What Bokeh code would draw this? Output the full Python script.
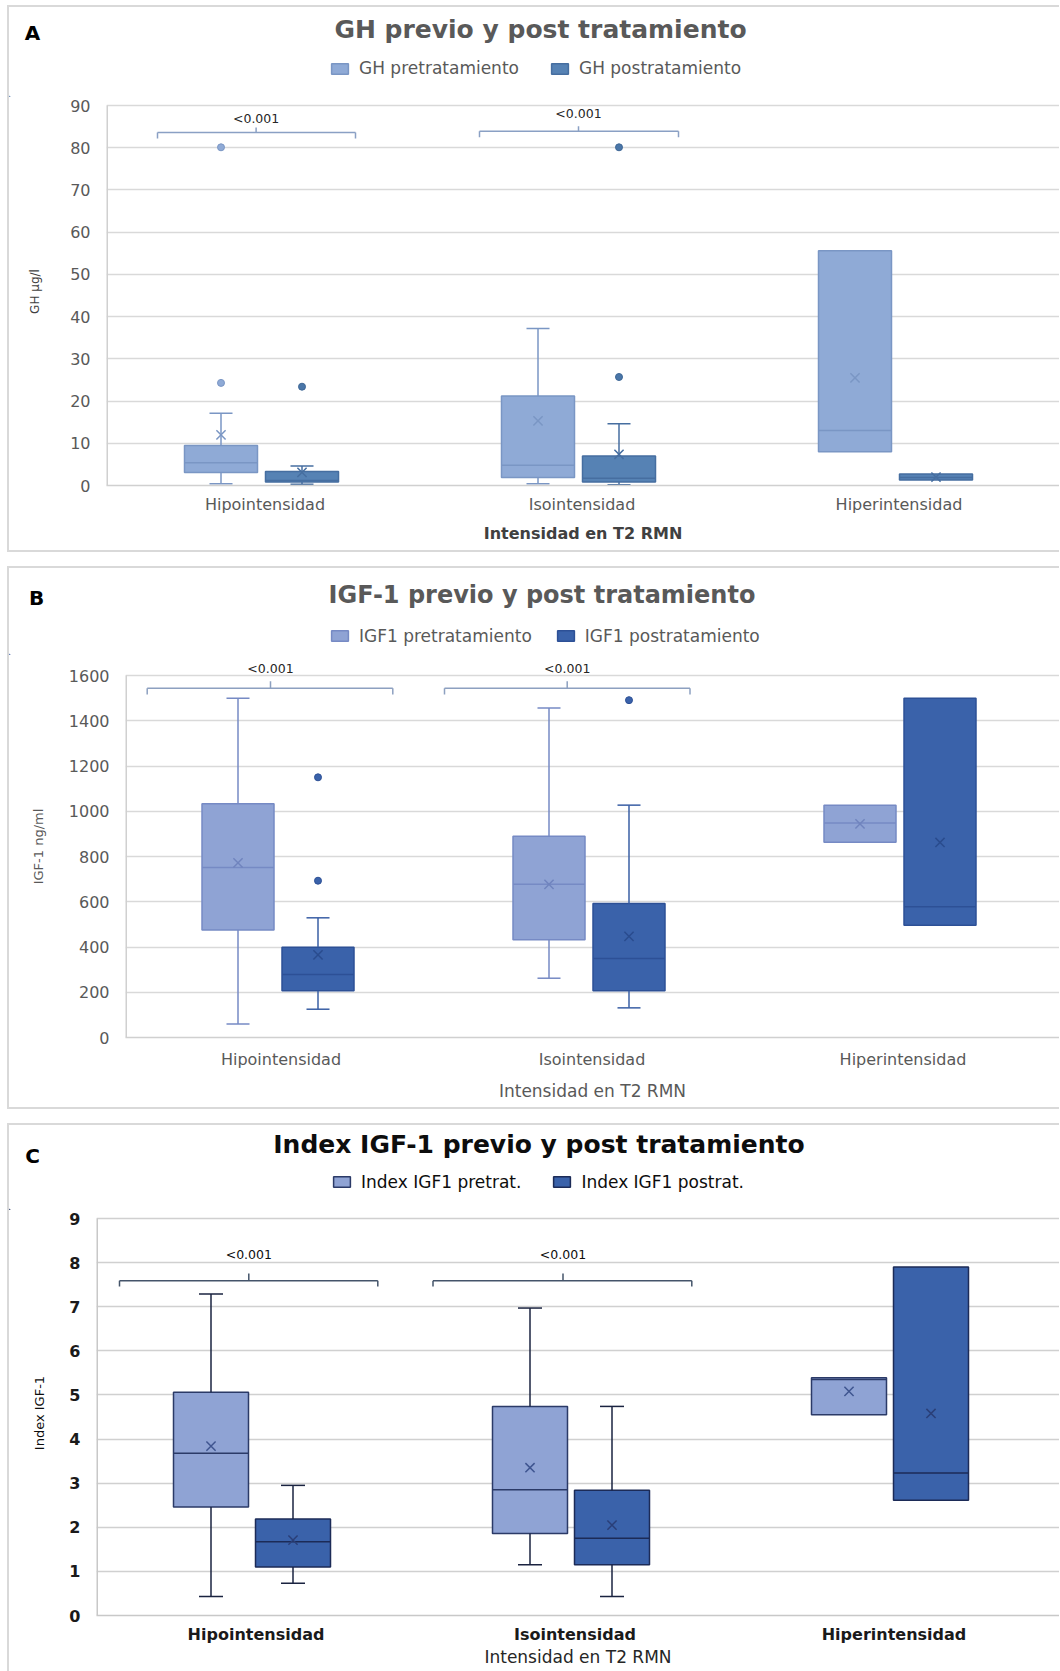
import math
from bokeh.plotting import figure
from bokeh.layouts import column
from bokeh.models import Range1d, FixedTicker, Label, Legend, LegendItem
from bokeh.embed import file_html
from bokeh.resources import INLINE

NaN = float("nan")

# ---------------- DATA ----------------
categories = ["Hipointensidad", "Isointensidad", "Hiperintensidad"]

# Panel A: GH (µg/l)
gh_pre_low = [0.4, 0.4, NaN]
gh_pre_q1 = [3.1, 1.9, 8.0]
gh_pre_med = [5.4, 4.8, 13.0]
gh_pre_q3 = [9.5, 21.2, 55.6]
gh_pre_high = [17.1, 37.2, NaN]
gh_pre_mean = [12.0, 15.3, 25.5]
gh_pre_out_cat = [0, 0]
gh_pre_out_val = [24.3, 80.1]

gh_post_low = [0.3, 0.2, NaN]
gh_post_q1 = [0.8, 0.8, 1.3]
gh_post_med = [1.2, 1.7, 1.9]
gh_post_q3 = [3.3, 7.0, 2.7]
gh_post_high = [4.6, 14.6, NaN]
gh_post_mean = [3.1, 7.4, 2.0]
gh_post_out_cat = [0, 1, 1]
gh_post_out_val = [23.4, 25.7, 80.1]

gh_yticks = [0, 10, 20, 30, 40, 50, 60, 70, 80, 90]
gh_pvalues = ["<0.001", "<0.001"]
gh_pvalue_cat = [0, 1]
gh_bracket_y = [83.6, 83.9]
gh_pvalue_y = [86.95, 88.2]

# Panel B: IGF-1 (ng/ml)
igf_pre_low = [60, 262, NaN]
igf_pre_q1 = [475, 432, 863]
igf_pre_med = [751, 677, 948]
igf_pre_q3 = [1033, 890, 1027]
igf_pre_high = [1500, 1456, NaN]
igf_pre_mean = [772, 677, 944]
igf_pre_out_cat = []
igf_pre_out_val = []

igf_post_low = [125, 131, NaN]
igf_post_q1 = [207, 207, 496]
igf_post_med = [278, 349, 578]
igf_post_q3 = [399, 592, 1500]
igf_post_high = [529, 1027, NaN]
igf_post_mean = [365, 447, 862]
igf_post_out_cat = [0, 0, 1]
igf_post_out_val = [1150, 693, 1491]

igf_yticks = [0, 200, 400, 600, 800, 1000, 1200, 1400, 1600]
igf_pvalues = ["<0.001", "<0.001"]
igf_pvalue_cat = [0, 1]
igf_bracket_y = [1544, 1544]
igf_pvalue_y = [1632, 1632]

# Panel C: Index IGF-1
idx_pre_low = [0.43, 1.15, NaN]
idx_pre_q1 = [2.46, 1.86, 4.55]
idx_pre_med = [3.68, 2.85, 5.35]
idx_pre_q3 = [5.06, 4.74, 5.39]
idx_pre_high = [7.29, 6.97, NaN]
idx_pre_mean = [3.84, 3.35, 5.08]
idx_pre_out_cat = []
idx_pre_out_val = []

idx_post_low = [0.73, 0.43, NaN]
idx_post_q1 = [1.10, 1.15, 2.61]
idx_post_med = [1.67, 1.75, 3.23]
idx_post_q3 = [2.19, 2.84, 7.90]
idx_post_high = [2.95, 4.74, NaN]
idx_post_mean = [1.71, 2.05, 4.58]
idx_post_out_cat = []
idx_post_out_val = []

idx_yticks = [0, 1, 2, 3, 4, 5, 6, 7, 8, 9]
idx_pvalues = ["<0.001", "<0.001"]
idx_pvalue_cat = [0, 1]
idx_bracket_y = [7.59, 7.59]
idx_pvalue_y = [8.18, 8.18]

FONT = "DejaVu Sans"
BORDER = "2px solid #D9D9D9"
CANVAS_LEFT = 9
CANVAS_W = 1050


def finite(v):
    return v is not None and not (isinstance(v, float) and math.isnan(v))


def no_align(p):
    try:
        p.frame_align = False
    except Exception:
        pass


def make_panel(L, S, pre, post, yticks, pv, texts):
    # ---------- main plot ----------
    frame_h = L["fb"] - L["y_top_px"]
    y0, y1 = yticks[0], yticks[-1]
    ppu = frame_h / (y1 - y0)
    y_end = y1 + (L["y_top_px"] - L["ft"]) / ppu
    frame_w = CANVAS_LEFT + CANVAS_W - L["fl"]
    xend = frame_w / L["cat_px"]
    main_h = L["inner_bottom"] - L["ft"]

    p = figure(width=CANVAS_W, height=main_h, x_range=Range1d(0, xend),
               y_range=Range1d(y0, y_end),
               output_backend="svg", toolbar_location=None,
               min_border_left=L["fl"] - CANVAS_LEFT, min_border_right=0,
               min_border_top=0, min_border_bottom=L["inner_bottom"] - L["fb"])
    no_align(p)
    p.title.visible = False
    p.outline_line_color = None
    p.background_fill_color = "white"
    p.border_fill_color = "white"

    centers = [i + 0.5 for i in range(len(categories))]

    p.xaxis.ticker = FixedTicker(ticks=centers)
    p.xaxis.major_label_overrides = {c: n for c, n in zip(centers, categories)}
    p.xaxis.major_tick_line_color = None
    p.xaxis.minor_tick_line_color = None
    p.xaxis.axis_line_color = S["axis_line"]
    p.xaxis.axis_line_width = 1.5
    p.xaxis.major_label_text_font = FONT
    p.xaxis.major_label_text_font_size = S["tick_size"]
    p.xaxis.major_label_text_font_style = S["tick_style"]
    p.xaxis.major_label_text_color = S["tick_color"]
    p.xaxis.major_label_standoff = S["xtick_standoff"]
    p.xaxis.axis_label = texts["xtitle"]
    p.xaxis.axis_label_text_font = FONT
    p.xaxis.axis_label_text_font_size = S["xtitle_size"]
    p.xaxis.axis_label_text_font_style = S["xtitle_style"]
    p.xaxis.axis_label_text_color = S["xtitle_color"]
    p.xaxis.axis_label_standoff = S["xtitle_standoff"]

    p.yaxis.ticker = FixedTicker(ticks=yticks)
    p.yaxis.major_tick_line_color = None
    p.yaxis.minor_tick_line_color = None
    p.yaxis.axis_line_color = None
    p.yaxis.major_label_text_font = FONT
    p.yaxis.major_label_text_font_size = S["tick_size"]
    p.yaxis.major_label_text_font_style = S["tick_style"]
    p.yaxis.major_label_text_color = S["tick_color"]
    p.yaxis.major_label_standoff = S["ytick_standoff"]
    p.yaxis.axis_label = texts["ytitle"]
    p.yaxis.axis_label_text_font = FONT
    p.yaxis.axis_label_text_font_size = S["ytitle_size"]
    p.yaxis.axis_label_text_font_style = "normal"
    p.yaxis.axis_label_text_color = S["ytitle_color"]
    p.yaxis.axis_label_standoff = S["ytitle_standoff"]

    p.xgrid.visible = False
    p.ygrid.ticker = FixedTicker(ticks=yticks)
    p.ygrid.grid_line_color = S["grid"]
    p.ygrid.grid_line_width = 1.5

    # left border of the plot area (from lowest to highest tick)
    p.segment(x0=[0], y0=[y0], x1=[0], y1=[y1], line_color=S["axis_line"], line_width=3)

    box_w = S["box_px"] / L["cat_px"]
    series_styles = []
    for ser, off_px, st in ((pre, S["off_pre"], S["pre"]), (post, S["off_post"], S["post"])):
        low, q1, med, q3, high, mean, oc, ov = ser
        xs = [c + off_px / L["cat_px"] for c in centers]
        p.vbar(x=xs, bottom=q1, top=q3, width=box_w, fill_color=st["fill"],
               line_color=st["line"], line_width=1.5)
        series_styles.append(st)
        wx, wy0, wy1, cx, cy = [], [], [], [], []
        for i in range(len(xs)):
            if finite(high[i]):
                wx.append(xs[i]); wy0.append(q3[i]); wy1.append(high[i])
                cx.append(xs[i]); cy.append(high[i])
            if finite(low[i]):
                wx.append(xs[i]); wy0.append(q1[i]); wy1.append(low[i])
                cx.append(xs[i]); cy.append(low[i])
        p.segment(x0=wx, y0=wy0, x1=wx, y1=wy1, line_color=st["whisker"], line_width=1.5)
        p.scatter(x=cx, y=cy, marker="dash", size=S["cap_px"], line_color=st["whisker"],
                  line_width=1.5)
        p.scatter(x=xs, y=med, marker="dash", size=S["box_px"], line_color=st["line"],
                  line_width=1.5)
        p.scatter(x=xs, y=mean, marker="x", size=S["mean_size"], line_color=st["mean"],
                  line_width=1.5)
        if oc:
            p.scatter(x=[xs[c] for c in oc], y=ov, marker="circle", size=S["out_size"],
                      fill_color=st["out_fill"], line_color=st["out_line"], line_width=1)

    txt, pcat, by, ly = pv
    for k in range(len(txt)):
        c = centers[pcat[k]]
        l_px, r_px, t_px = S["brackets"][k]
        xl = c + l_px / L["cat_px"]
        xr = c + r_px / L["cat_px"]
        xt = c + t_px / L["cat_px"]
        yb = by[k]
        yd = yb - S["bracket_drop"] / ppu
        yu = yb + S["bracket_up"] / ppu
        p.segment(x0=[xl, xl, xr, xt], y0=[yb, yb, yb, yb], x1=[xr, xl, xr, xt],
                  y1=[yb, yd, yd, yu], line_color=S["bracket"], line_width=1.5)
        p.add_layout(Label(x=xt, y=ly[k], text=txt[k], text_align="center",
                           text_baseline="middle", text_font=FONT,
                           text_font_size=S["pv_size"], text_color=S["pv_color"]))

    # ---------- header (title, panel letter, legend) ----------
    hh = L["ft"] - L["inner_top"]
    h = figure(width=CANVAS_W, height=hh, x_range=Range1d(0, CANVAS_W), y_range=Range1d(0, hh),
               x_axis_type=None, y_axis_type=None, output_backend="svg",
               toolbar_location=None, min_border=0)
    no_align(h)
    h.title.visible = False
    h.outline_line_color = None
    h.xgrid.visible = False
    h.ygrid.visible = False

    def hx(px):
        return px - CANVAS_LEFT

    def hy(py):
        return hh - (py - L["inner_top"])

    tx, ty = S["title_pos"]
    h.add_layout(Label(x=hx(tx), y=hy(ty), text=texts["title"], text_align="center",
                       text_baseline="middle", text_font=FONT, text_font_style="bold",
                       text_font_size=S["title_size"], text_color=S["title_color"]))
    lx, lyy = S["letter_pos"]
    h.add_layout(Label(x=hx(lx), y=hy(lyy), text=texts["letter"], text_align="center",
                       text_baseline="middle", text_font=FONT, text_font_style="bold",
                       text_font_size="20px", text_color="#000000"))

    # legend proxies: one swatch per series, styled like the boxes, kept off-canvas
    items = []
    for name, st in zip(texts["legend"], series_styles):
        r = h.vbar(x=[-500], bottom=[0], top=[1], width=1, fill_color=st["fill"],
                   line_color=st["line"], line_width=1.5)
        items.append(LegendItem(label=name, renderers=[r]))
    gx, gy = S["legend_pos"]  # left edge, vertical centre
    legend = Legend(items=items, orientation="horizontal",
                    location=(hx(gx), hy(gy + 10)),
                    glyph_width=21, glyph_height=13, label_standoff=9, label_height=20,
                    spacing=S["legend_spacing"], padding=0, margin=0,
                    border_line_color=None, background_fill_alpha=0,
                    label_text_font=FONT, label_text_font_size=S["legend_size"],
                    label_text_color=S["legend_color"])
    h.add_layout(legend)

    return column(h, p, spacing=0, styles=L["styles"])


# ---------------- Panel A ----------------
LA = dict(inner_top=7, ft=97, y_top_px=105, fb=485, inner_bottom=550, fl=106, cat_px=317,
          styles={"border-left": BORDER, "border-top": BORDER, "border-bottom": BORDER})
SA = dict(axis_line="#D0D0D0", grid="#D9D9D9", tick_size="16px", tick_style="normal",
          tick_color="#595959", xtick_standoff=3, ytick_standoff=10,
          xtitle_size="16px", xtitle_style="bold", xtitle_color="#404040", xtitle_standoff=7,
          ytitle_size="12px", ytitle_color="#404040", ytitle_standoff=25,
          box_px=73, off_pre=-44, off_post=37, cap_px=23, mean_size=13, out_size=7,
          pre=dict(fill="#8FAAD6", line="#7A96C4", whisker="#7A96C4", mean="#7A96C4",
                   out_fill="#8FAAD6", out_line="#7A96C4"),
          post=dict(fill="#5682B4", line="#466EA0", whisker="#466EA0", mean="#466EA0",
                    out_fill="#4A76A8", out_line="#3E6796"),
          brackets=[(-107.5, 90.5, -8.9), (-102.5, 96.5, -3.5)], bracket_drop=6,
          bracket_up=5, bracket="#8AA0C4", pv_size="12.5px", pv_color="#262626",
          title_pos=(540, 29), title_size="25px", title_color="#595959",
          letter_pos=(32, 32), legend_pos=(329, 68), legend_size="17px",
          legend_spacing=30, legend_color="#595959")
TA = dict(title="GH previo y post tratamiento", letter="A", ytitle="GH µg/l",
          xtitle="Intensidad en T2 RMN",
          legend=["GH pretratamiento", "GH postratamiento"])
cA = make_panel(LA, SA,
                (gh_pre_low, gh_pre_q1, gh_pre_med, gh_pre_q3, gh_pre_high, gh_pre_mean,
                 gh_pre_out_cat, gh_pre_out_val),
                (gh_post_low, gh_post_q1, gh_post_med, gh_post_q3, gh_post_high, gh_post_mean,
                 gh_post_out_cat, gh_post_out_val),
                gh_yticks, (gh_pvalues, gh_pvalue_cat, gh_bracket_y, gh_pvalue_y), TA)

# ---------------- Panel B ----------------
LB = dict(inner_top=568, ft=655, y_top_px=675, fb=1037, inner_bottom=1107, fl=125, cat_px=311,
          styles={"border-left": BORDER, "border-top": BORDER, "border-bottom": BORDER})
SB = dict(axis_line="#D0D0D0", grid="#D9D9D9", tick_size="16px", tick_style="normal",
          tick_color="#595959", xtick_standoff=6, ytick_standoff=10,
          xtitle_size="17px", xtitle_style="normal", xtitle_color="#595959",
          xtitle_standoff=9,
          ytitle_size="13px", ytitle_color="#595959", ytitle_standoff=20,
          box_px=72, off_pre=-43, off_post=37, cap_px=23, mean_size=13, out_size=7,
          pre=dict(fill="#8FA3D4", line="#768AC4", whisker="#768AC4", mean="#7084BE",
                   out_fill="#8FA3D4", out_line="#768AC4"),
          post=dict(fill="#3A62AA", line="#2D5096", whisker="#3A5FA5", mean="#2A4C8E",
                    out_fill="#3A62AA", out_line="#2D5096"),
          brackets=[(-133.8, 111.8, -10.5), (-147.5, 98.0, -24.8)], bracket_drop=6.3,
          bracket_up=7, bracket="#8DA0C0", pv_size="12.5px", pv_color="#262626",
          title_pos=(541.5, 594), title_size="24px", title_color="#595959",
          letter_pos=(36, 597.5), legend_pos=(329, 635.5), legend_size="17px",
          legend_spacing=23, legend_color="#595959")
TB = dict(title="IGF-1 previo y post tratamiento", letter="B", ytitle="IGF-1 ng/ml",
          xtitle="Intensidad en T2 RMN",
          legend=["IGF1 pretratamiento", "IGF1 postratamiento"])
cB = make_panel(LB, SB,
                (igf_pre_low, igf_pre_q1, igf_pre_med, igf_pre_q3, igf_pre_high, igf_pre_mean,
                 igf_pre_out_cat, igf_pre_out_val),
                (igf_post_low, igf_post_q1, igf_post_med, igf_post_q3, igf_post_high,
                 igf_post_mean, igf_post_out_cat, igf_post_out_val),
                igf_yticks, (igf_pvalues, igf_pvalue_cat, igf_bracket_y, igf_pvalue_y), TB)

# ---------------- Panel C ----------------
LC = dict(inner_top=1125, ft=1210, y_top_px=1218, fb=1615, inner_bottom=1671, fl=96,
          cat_px=319, styles={"border-left": BORDER, "border-top": BORDER})
SC = dict(axis_line="#C8C8C8", grid="#D0D0D0", tick_size="16px", tick_style="bold",
          tick_color="#1A1A1A", xtick_standoff=3, ytick_standoff=10,
          xtitle_size="17px", xtitle_style="normal", xtitle_color="#262626",
          xtitle_standoff=0,
          ytitle_size="13px", ytitle_color="#0D0D0D", ytitle_standoff=19,
          box_px=75, off_pre=-45, off_post=37, cap_px=24, mean_size=13, out_size=7,
          pre=dict(fill="#8FA3D4", line="#2B3A67", whisker="#1A2340", mean="#3F5590",
                   out_fill="#8FA3D4", out_line="#2B3A67"),
          post=dict(fill="#3A62AA", line="#1C2B57", whisker="#1A2340", mean="#2A3F78",
                    out_fill="#3A62AA", out_line="#1C2B57"),
          brackets=[(-136.5, 121.8, -7.2), (-142.0, 116.8, -12.0)], bracket_drop=5.7,
          bracket_up=7.3, bracket="#44546A", pv_size="12.5px", pv_color="#0D0D0D",
          title_pos=(538.5, 1144), title_size="25px", title_color="#0D0D0D",
          letter_pos=(32, 1155), legend_pos=(331, 1181.5), legend_size="17px",
          legend_spacing=30, legend_color="#0D0D0D")
TC = dict(title="Index IGF-1 previo y post tratamiento", letter="C", ytitle="Index IGF-1",
          xtitle="Intensidad en T2 RMN",
          legend=["Index IGF1 pretrat.", "Index IGF1 postrat."])
cC = make_panel(LC, SC,
                (idx_pre_low, idx_pre_q1, idx_pre_med, idx_pre_q3, idx_pre_high, idx_pre_mean,
                 idx_pre_out_cat, idx_pre_out_val),
                (idx_post_low, idx_post_q1, idx_post_med, idx_post_q3, idx_post_high,
                 idx_post_mean, idx_post_out_cat, idx_post_out_val),
                idx_yticks, (idx_pvalues, idx_pvalue_cat, idx_bracket_y, idx_pvalue_y), TC)

layout = column(cA, cB, cC, spacing=14, margin=(5, 0, 0, 7))

with open("out.html", "w") as f:
    f.write(file_html(layout, INLINE))
